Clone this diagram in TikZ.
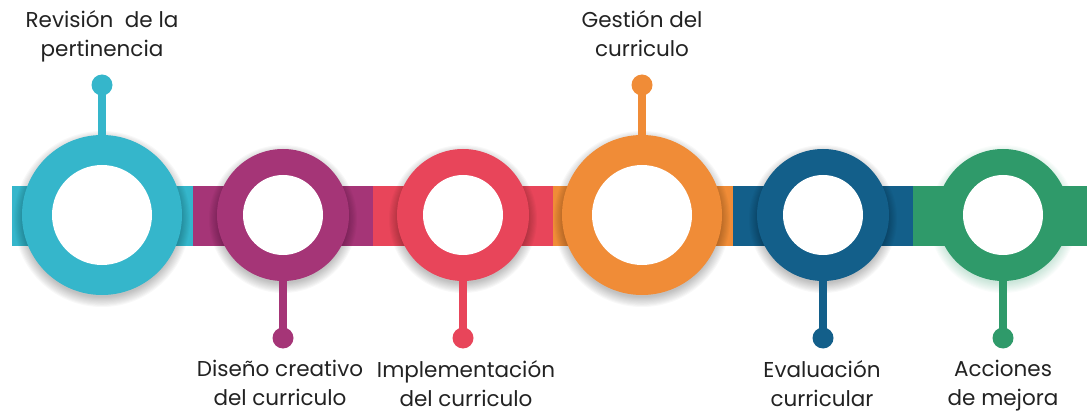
\documentclass[tikz,border=0pt]{standalone}
\usepackage{fontspec}
\setmainfont{Poppins}
\definecolor{ccyan}{HTML}{35B6CB}
\definecolor{cmag}{HTML}{A53577}
\definecolor{cred}{HTML}{E8455A}
\definecolor{corange}{HTML}{F08C37}
\definecolor{cblue}{HTML}{135F8A}
\definecolor{cgreen}{HTML}{2F9A6A}
\definecolor{ctext}{HTML}{222222}
\tikzset{
  ring/.style={circle, inner sep=0pt, minimum size=#1},
  hole/.style={circle, inner sep=0pt, fill=white, minimum size=#1},
  dotnode/.style={circle, inner sep=0pt, minimum size=21pt},
  stem/.style={line width=8pt},
  lbl/.style={align=center, text=ctext, font=\fontsize{21.5}{29}\selectfont, inner sep=0pt},
}
\begin{document}
\begin{tikzpicture}[x=1pt,y=-1pt]
\useasboundingbox (0,0) rectangle (1087,414);
% band segments
\fill[ccyan]   (12,186) rectangle (193,246);
\fill[cmag]    (193,186) rectangle (373,246);
\fill[cred]    (373,186) rectangle (553,246);
\fill[corange] (553,186) rectangle (733,246);
\fill[cblue]   (733,186) rectangle (913,246);
\fill[cgreen]  (913,186) rectangle (1087,246);
% shadows
\foreach \cx/\R/\sc in {102/80/black,283/66/black,463/66/black,642/80/black,823/66/black,1003/66/cgreen}{
  \foreach \k in {1,...,10}{
    \fill[\sc, opacity=0.028] (\cx,219) circle ({\R-3+\k*1.1});
  }
}
% circles
\node[ring=160pt, fill=ccyan]   (c1) at (102,215) {};
\node[ring=132pt, fill=cmag]    (c2) at (283,215) {};
\node[ring=132pt, fill=cred]    (c3) at (463,215) {};
\node[ring=160pt, fill=corange] (c4) at (642,215) {};
\node[ring=132pt, fill=cblue]   (c5) at (823,215) {};
\node[ring=132pt, fill=cgreen]  (c6) at (1003,215) {};
\node[hole=100pt] (w1) at (c1) {};
\node[hole=80pt]  (w2) at (c2) {};
\node[hole=80pt]  (w3) at (c3) {};
\node[hole=100pt] (w4) at (c4) {};
\node[hole=80pt]  (w5) at (c5) {};
\node[hole=80pt]  (w6) at (c6) {};
% dots
\node[dotnode, fill=ccyan]   (d1) at (102,85) {};
\node[dotnode, fill=cmag]    (d2) at (283,338) {};
\node[dotnode, fill=cred]    (d3) at (463,338) {};
\node[dotnode, fill=corange] (d4) at (642,85) {};
\node[dotnode, fill=cblue]   (d5) at (823,338) {};
\node[dotnode, fill=cgreen]  (d6) at (1003,338) {};
% stems
\draw[stem, ccyan]   (c1.north) -- (d1.center);
\draw[stem, cmag]    (c2.south) -- (d2.center);
\draw[stem, cred]    (c3.south) -- (d3.center);
\draw[stem, corange] (c4.north) -- (d4.center);
\draw[stem, cblue]   (c5.south) -- (d5.center);
\draw[stem, cgreen]  (c6.south) -- (d6.center);
% labels
\node[lbl, anchor=north] (t1) at (102,10) {Revisión\ \ de la\\pertinencia};
\node[lbl, anchor=north] (t4) at (642,10) {Gestión del\\curriculo};
\node[lbl, anchor=north] (t2) at (280,360) {Diseño creativo\\del curriculo};
\node[lbl, anchor=north] (t3) at (466,360) {Implementación\\del curriculo};
\node[lbl, anchor=north] (t5) at (822,360) {Evaluación\\curricular};
\node[lbl, anchor=north] (t6) at (1003,360) {Acciones\\de mejora};
\end{tikzpicture}
\end{document}
